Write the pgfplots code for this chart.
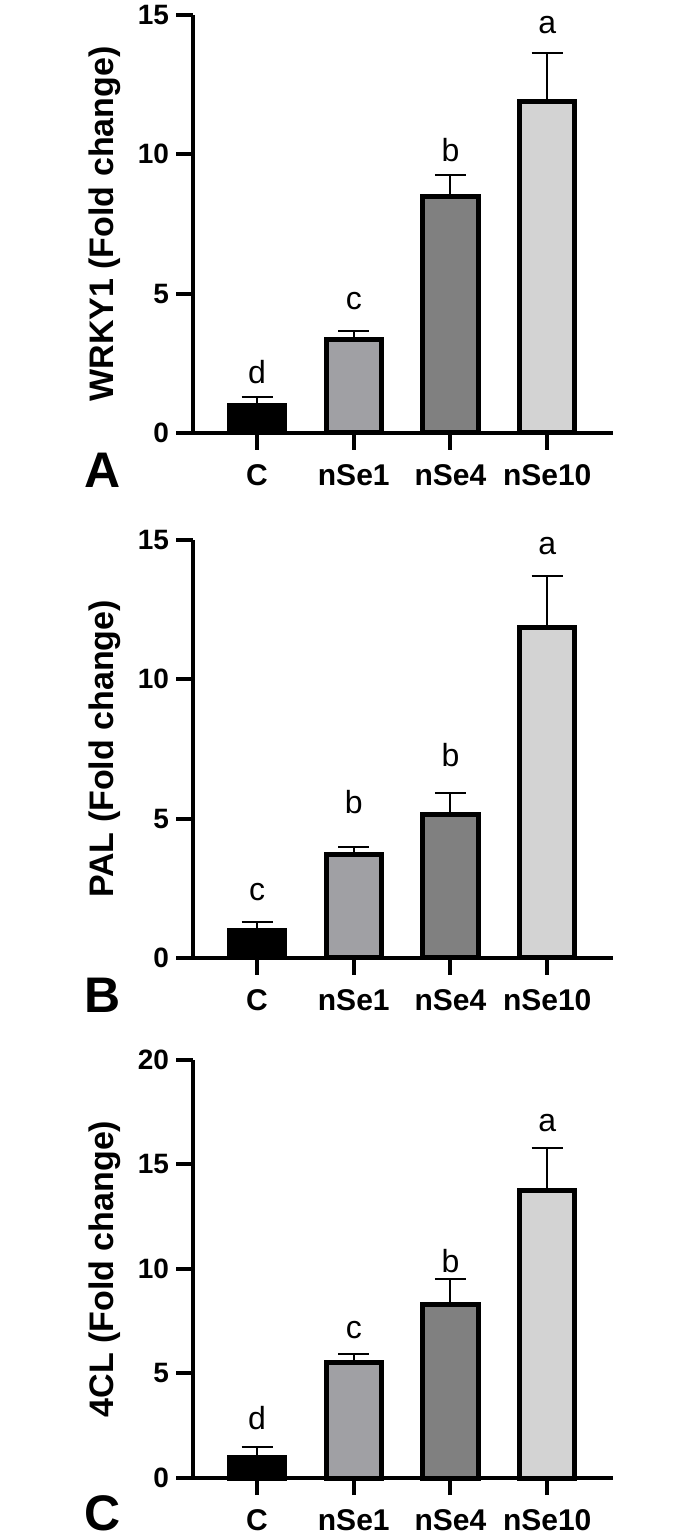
\documentclass[border=0pt]{standalone}
\usepackage{fontspec}
\setmainfont{Liberation Sans}
\usepackage{pgfplots}
\pgfplotsset{compat=1.18}

\definecolor{cC}{RGB}{0,0,0}
\definecolor{cS1}{RGB}{160,160,164}
\definecolor{cS4}{RGB}{128,128,128}
\definecolor{cS10}{RGB}{211,211,211}

\pgfplotsset{
  geneaxis/.style={
    scale only axis, width=210pt, height=209pt,
    anchor=south west,
    xmin=-0.662, xmax=3.68, ymin=0,
    axis x line=bottom, axis y line=left,
    axis line style={line width=2.2pt, -},
    xtick={0,1,2,3}, xticklabels={C,nSe1,nSe4,nSe10},
    tick align=outside, major tick length=8.5pt,
    tick style={black, line width=2pt},
    x tick label style={font=\bfseries\fontsize{15}{15}\selectfont, yshift=-3.5pt},
    y tick label style={font=\bfseries\fontsize{14}{14}\selectfont},
    /pgf/number format/assume math mode=true,
    ylabel style={font=\bfseries\fontsize{17}{17}\selectfont,
      at={(axis description cs:-0.2095,0.5)}, anchor=center},
    clip=false,
    ybar,
    error bars/y dir=plus, error bars/y explicit,
    error bars/error bar style={line width=1pt, black},
    error bars/error mark options={rotate=90, mark size=7.75pt, line width=1pt, black},
  },
  bb/.style={fill=#1, draw=black, line width=2.5pt, bar width=0.57, bar shift=0pt},
}
\tikzset{
  sig/.style={font=\fontsize{16}{16}\selectfont, inner sep=0pt},
  panel/.style={font=\bfseries\fontsize{25}{25}\selectfont, inner sep=0pt},
}

\begin{document}
\begin{tikzpicture}
\useasboundingbox (0,0) rectangle (350pt,770pt);

% Panel A
\begin{axis}[geneaxis, at={(96.5pt,553.5pt)}, ymax=15, ytick={0,5,10,15},
  ylabel={WRKY1 (Fold change)}]
\addplot[bb=cC] coordinates {(0,1.0) +- (0,0.28)};
\addplot[bb=cS1] coordinates {(1,3.35) +- (0,0.30)};
\addplot[bb=cS4] coordinates {(2,8.5) +- (0,0.75)};
\addplot[bb=cS10] coordinates {(3,11.9) +- (0,1.75)};
\node[sig] at (axis cs:0,2.2) {d};
\node[sig] at (axis cs:1,4.72) {c};
\node[sig] at (axis cs:2,10.16) {b};
\node[sig] at (axis cs:3,14.64) {a};
\node[panel] at (axis cs:-1.60,-1.33) {A};
\end{axis}

% Panel B
\begin{axis}[geneaxis, at={(96.5pt,291pt)}, ymax=15, ytick={0,5,10,15},
  ylabel={PAL (Fold change)}]
\addplot[bb=cC] coordinates {(0,1.0) +- (0,0.29)};
\addplot[bb=cS1] coordinates {(1,3.7) +- (0,0.30)};
\addplot[bb=cS4] coordinates {(2,5.15) +- (0,0.78)};
\addplot[bb=cS10] coordinates {(3,11.85) +- (0,1.85)};
\node[sig] at (axis cs:0,2.38) {c};
\node[sig] at (axis cs:1,5.6) {b};
\node[sig] at (axis cs:2,7.3) {b};
\node[sig] at (axis cs:3,14.8) {a};
\node[panel] at (axis cs:-1.60,-1.33) {B};
\end{axis}

% Panel C
\begin{axis}[geneaxis, at={(96.5pt,31pt)}, ymax=20, ytick={0,5,10,15,20},
  ylabel={4CL (Fold change)}]
\addplot[bb=cC] coordinates {(0,1.0) +- (0,0.5)};
\addplot[bb=cS1] coordinates {(1,5.55) +- (0,0.40)};
\addplot[bb=cS4] coordinates {(2,8.3) +- (0,1.2)};
\addplot[bb=cS10] coordinates {(3,13.75) +- (0,2.05)};
\node[sig] at (axis cs:0,2.86) {d};
\node[sig] at (axis cs:1,7.07) {c};
\node[sig] at (axis cs:2,10.4) {b};
\node[sig] at (axis cs:3,17.0) {a};
\node[panel] at (axis cs:-1.60,-1.68) {C};
\end{axis}
\end{tikzpicture}
\end{document}
